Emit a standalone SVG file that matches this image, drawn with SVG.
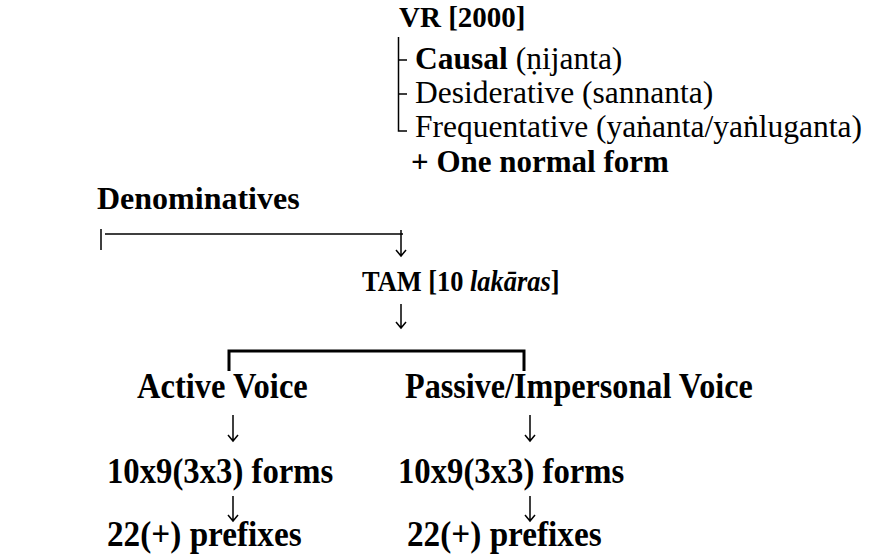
<svg xmlns="http://www.w3.org/2000/svg" width="871" height="556" viewBox="0 0 871 556">
<rect width="871" height="556" fill="#fff"/>
<g id="vr"><text x="399" y="27" style="font-family:'Times New Roman','Liberation Serif',Tinos,serif;font-size:29px;font-weight:bold">VR [2000]</text></g>
<g id="causal"><text x="415" y="69" style="font-family:'Times New Roman','Liberation Serif',Tinos,serif;font-size:31.5px"><tspan style="font-weight:bold">Causal</tspan> (ṇijanta)</text></g>
<g id="desiderative"><text x="415" y="103" style="font-family:'Times New Roman','Liberation Serif',Tinos,serif;font-size:31.5px">Desiderative (sannanta)</text></g>
<g id="frequentative"><text x="415" y="137" style="font-family:'Times New Roman','Liberation Serif',Tinos,serif;font-size:31.5px">Frequentative (yaṅanta/yaṅluganta)</text></g>
<g id="normal"><text x="411" y="172" style="font-family:'Times New Roman','Liberation Serif',Tinos,serif;font-size:31px;font-weight:bold">+ One normal form</text></g>
<g id="denominatives"><text x="97" y="209" style="font-family:'Times New Roman','Liberation Serif',Tinos,serif;font-size:32px;font-weight:bold">Denominatives</text></g>
<g id="tam"><text transform="translate(362,291) scale(0.88,1)" style="font-family:'Times New Roman','Liberation Serif',Tinos,serif;font-size:30px;font-weight:bold">TAM [10 <tspan style="font-style:italic">lakāras</tspan>]</text></g>
<g id="active"><text transform="translate(137,398) scale(0.93,1)" style="font-family:'Times New Roman','Liberation Serif',Tinos,serif;font-size:35px;font-weight:bold">Active Voice</text></g>
<g id="passive"><text transform="translate(405,398) scale(0.92,1)" style="font-family:'Times New Roman','Liberation Serif',Tinos,serif;font-size:35px;font-weight:bold">Passive/Impersonal Voice</text></g>
<g id="forms-a"><text transform="translate(107,483) scale(0.935,1)" style="font-family:'Times New Roman','Liberation Serif',Tinos,serif;font-size:35px;font-weight:bold">10x9(3x3) forms</text></g>
<g id="forms-p"><text transform="translate(398,483) scale(0.935,1)" style="font-family:'Times New Roman','Liberation Serif',Tinos,serif;font-size:35px;font-weight:bold">10x9(3x3) forms</text></g>
<g id="prefixes-a"><text transform="translate(107,546) scale(0.95,1)" style="font-family:'Times New Roman','Liberation Serif',Tinos,serif;font-size:35px;font-weight:bold">22(+) prefixes</text></g>
<g id="prefixes-p"><text transform="translate(407,546) scale(0.95,1)" style="font-family:'Times New Roman','Liberation Serif',Tinos,serif;font-size:35px;font-weight:bold">22(+) prefixes</text></g>
<g id="connectors" fill="none" stroke="#000" stroke-width="1.5">
<path d="M398.5,37 V131 H407 M398.5,60 H407 M398.5,94 H407"/>
<path d="M101,229 V250 M105,234 H403"/>
<path d="M401,230 V256 M396,250 L401,256 L406,250"/>
<path d="M401,304 V328 M396,322 L401,328 L406,322"/>
<path d="M229,371 V351 H524 V371" stroke-width="3"/>
<path d="M233,415 V441 M228,435 L233,441 L238,435"/>
<path d="M530,415 V441 M525,435 L530,441 L535,435"/>
<path d="M233,496 V521 M228,515 L233,521 L238,515"/>
<path d="M530,496 V521 M525,515 L530,521 L535,515"/>
</g>
</svg>
